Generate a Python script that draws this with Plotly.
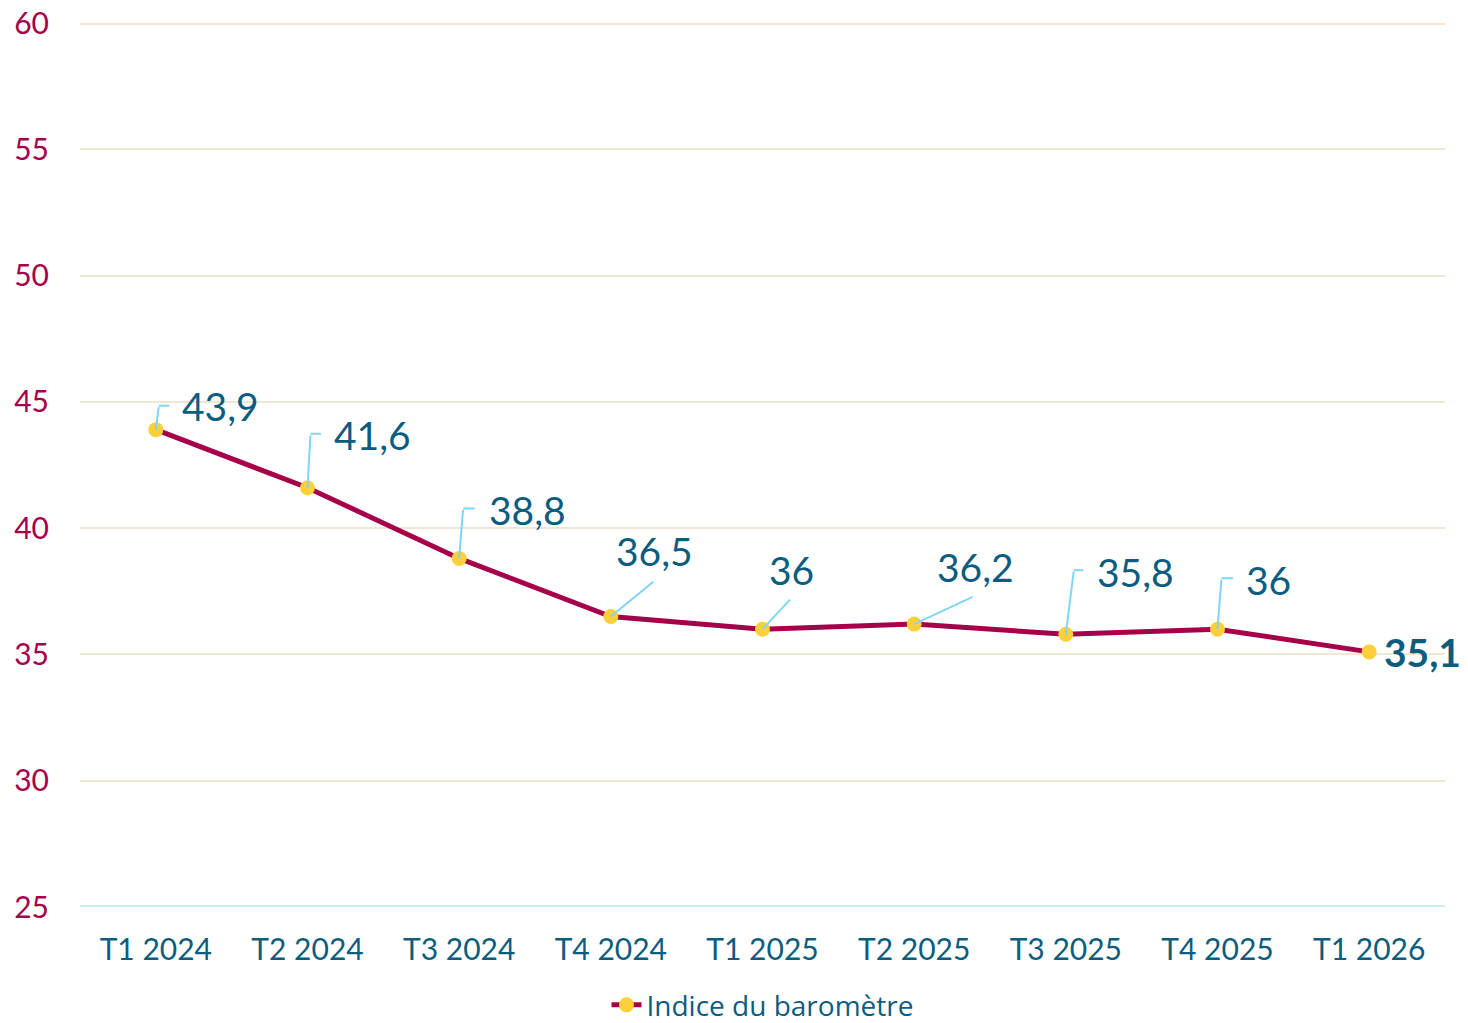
import plotly.graph_objects as go

trimestres = ['T1 2024', 'T2 2024', 'T3 2024', 'T4 2024', 'T1 2025',
              'T2 2025', 'T3 2025', 'T4 2025', 'T1 2026']
indice = [43.9, 41.6, 38.8, 36.5, 36.0, 36.2, 35.8, 36.0, 35.1]
etiquettes = ['43,9', '41,6', '38,8', '36,5', '36', '36,2', '35,8', '36', '35,1']
graduations = [25, 30, 35, 40, 45, 50, 55, 60]

BLEU = '#0b5d7f'
BORDEAUX = '#a6004b'
JAUNE = '#fdd03b'
TRAIT = '#80d4f7'
GRILLE = '#f1e6d2'

fig = go.Figure()
fig.add_trace(go.Scatter(
    x=trimestres, y=indice, mode='lines+markers', name='Indice du baromètre',
    line=dict(color=BORDEAUX, width=5),
    marker=dict(color=JAUNE, size=15),
))

# placement des étiquettes (décalages en pixels)
# (leader_dx, leader_dy, crochet, texte_dx, texte_dy, ancrage)
placement = [
    (3, -24, 12, 24, -24, 'left'),
    (3, -54, 12, 24, -53, 'left'),
    (4, -50, 13, 28, -48, 'left'),
    (44, -36, 0, 44, -66, 'center'),
    (29, -31, 0, 29, -59, 'center'),
    (60, -28, 0, 61, -57, 'center'),
    (8, -64, 11, 29, -62, 'left'),
    (4, -51, 13, 26, -49, 'left'),
    None,
]

for i, p in enumerate(placement):
    x, y = trimestres[i], indice[i]
    if p is None:
        fig.add_annotation(x=x, y=y, text='<b>' + etiquettes[i] + '</b>', showarrow=False,
                           xanchor='left', yanchor='middle', xshift=13,
                           font=dict(size=39, color=BLEU, family='Lato'))
        continue
    ldx, ldy, crochet, tdx, tdy, anc = p
    fig.add_annotation(x=x, y=y, text='', showarrow=True, axref='pixel', ayref='pixel',
                       ax=ldx, ay=ldy, arrowhead=0, arrowwidth=2, arrowcolor=TRAIT,
                       standoff=0, startstandoff=0)
    if crochet:
        fig.add_annotation(x=x, y=y, text='', showarrow=True, xshift=ldx, yshift=-ldy,
                           ax=crochet, ay=0, arrowhead=0, arrowwidth=2, arrowcolor=TRAIT,
                           standoff=0, startstandoff=0)
    fig.add_annotation(x=x, y=y, text=etiquettes[i], showarrow=False,
                       xanchor=anc, yanchor='middle', xshift=tdx, yshift=-tdy,
                       font=dict(size=39, color=BLEU, family='Lato'))

# la page ajoute une marge de 8 px autour du graphique
fig.update_layout(
    width=1460, height=1015,
    margin=dict(l=72, r=23, t=15, b=116, autoexpand=False),
    plot_bgcolor='white', paper_bgcolor='white',
    font=dict(family='Lato', color=BLEU),
    showlegend=True,
    legend=dict(orientation='h', x=0.5, xanchor='center', y=-0.111, yanchor='middle',
                font=dict(size=28, color=BLEU, family='Open Sans')),
    xaxis=dict(range=[-0.5, 8.5], showgrid=False, showline=False, zeroline=False,
               automargin=False,
               tickfont=dict(size=30, color=BLEU), ticks='', ticklabelstandoff=22),
    yaxis=dict(range=[25, 60], tickvals=graduations,
               showgrid=True, gridcolor=GRILLE, gridwidth=2,
               zeroline=False, showline=False, automargin=False,
               ticklabeloverflow='allow',
               tickfont=dict(size=30, color=BORDEAUX), ticklabelstandoff=30),
)
fig.add_hline(y=graduations[-1], line=dict(color=GRILLE, width=4), layer='below')
fig.add_hline(y=graduations[0], line=dict(color='#c8ecfa', width=4), layer='below')

fig.write_html('out.html')
